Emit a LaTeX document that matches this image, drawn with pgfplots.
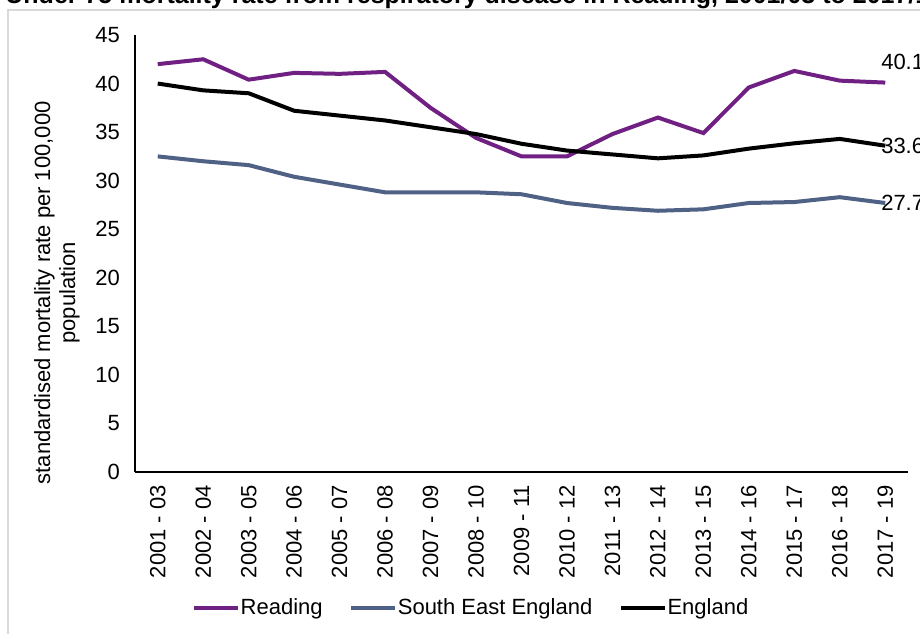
\documentclass[border=0pt]{standalone}
\usepackage{pgfplots}
\pgfplotsset{compat=1.18}
\usepackage{fontspec}
\setmainfont{Liberation Sans}
\definecolor{readpurple}{RGB}{112,32,130}
\definecolor{seslate}{RGB}{79,97,133}
\definecolor{framegray}{RGB}{217,217,217}
\begin{document}
\begin{tikzpicture}
\useasboundingbox (0,0) rectangle (460pt,316.5pt);
\draw[framegray, line width=1pt] (4pt,-10pt) rectangle (475pt,311.5pt);
\node[anchor=base west, font=\fontsize{12.5}{14}\selectfont\bfseries, inner sep=0pt] at (2.5pt,314.8pt) {Under 75 mortality rate from respiratory disease in Reading, 2001/03 to 2017/19};
\begin{axis}[
  at={(67.5pt,80.5pt)}, anchor=south west,
  scale only axis, width=386.5pt, height=218.5pt,
  xmin=-0.5, xmax=16.5, ymin=0, ymax=45,
  axis x line*=bottom, axis y line*=left,
  axis line style={line width=1pt, -},
  ytick distance=5,
  xtick={0,...,16},
  xticklabels={2001 - 03,2002 - 04,2003 - 05,2004 - 06,2005 - 07,2006 - 08,2007 - 09,2008 - 10,2009 - 11,2010 - 12,2011 - 13,2012 - 14,2013 - 15,2014 - 16,2015 - 17,2016 - 18,2017 - 19},
  major tick length=0pt,
  tick label style={font=\fontsize{11}{13}\selectfont},
  /pgf/number format/assume math mode=true,
  x tick label style={rotate=90, anchor=east, xshift=-3pt},
  y tick label style={xshift=-4pt},
  ylabel={standardised mortality rate per 100,000\\population},
  ylabel style={align=center, font=\fontsize{11}{12.5}\selectfont, at={(rel axis cs:-0.101,0.41)}, anchor=center},
  legend style={at={(rel axis cs:0.434,-0.311)}, anchor=center, draw=none, fill=none, font=\fontsize{11}{13}\selectfont,
    /tikz/every even column/.append style={column sep=13pt},
    nodes={inner xsep=0.3pt}},
  legend columns=3,
  legend image code/.code={\draw[#1, line width=2pt] (0pt,0pt) -- (22pt,0pt);},
  clip=false,
]
\addplot[readpurple, line width=2pt] coordinates {
(0,42.0) (1,42.5) (2,40.4) (3,41.1) (4,41.0) (5,41.2) (6,37.5) (7,34.4) (8,32.5) (9,32.5) (10,34.8) (11,36.5) (12,34.9) (13,39.6) (14,41.3) (15,40.3) (16,40.1)}
 node[pos=1, anchor=west, inner sep=0pt, xshift=-3pt, yshift=10.5pt, text=black, font=\fontsize{11}{13}\selectfont] {40.1};
\addlegendentry{Reading}
\addplot[seslate, line width=2pt] coordinates {
(0,32.5) (1,32.0) (2,31.6) (3,30.4) (4,29.6) (5,28.8) (6,28.8) (7,28.8) (8,28.6) (9,27.7) (10,27.2) (11,26.9) (12,27.05) (13,27.7) (14,27.8) (15,28.3) (16,27.7)}
 node[pos=1, anchor=west, inner sep=0pt, xshift=-3pt, text=black, font=\fontsize{11}{13}\selectfont] {27.7};
\addlegendentry{South East England}
\addplot[black, line width=2pt] coordinates {
(0,40.0) (1,39.3) (2,39.0) (3,37.2) (4,36.7) (5,36.2) (6,35.5) (7,34.8) (8,33.8) (9,33.1) (10,32.7) (11,32.3) (12,32.6) (13,33.3) (14,33.85) (15,34.3) (16,33.6)}
 node[pos=1, anchor=west, inner sep=0pt, xshift=-3pt, text=black, font=\fontsize{11}{13}\selectfont] {33.6};
\addlegendentry{England}
\end{axis}
\end{tikzpicture}
\end{document}
